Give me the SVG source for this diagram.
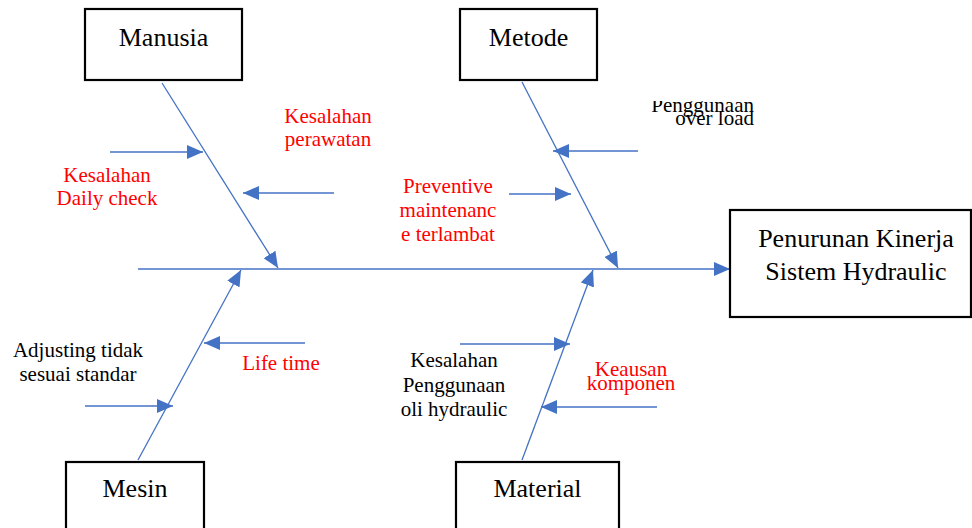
<svg xmlns="http://www.w3.org/2000/svg" width="972" height="528" viewBox="0 0 972 528">
<style>
  .box{fill:#fff;stroke:#000;stroke-width:2.2}
  .bone{stroke:#4472C4;stroke-width:1.3;fill:none;marker-end:url(#ah)}
  .t{font-family:"Liberation Serif","Times New Roman",serif;text-anchor:middle}
  .big{font-size:26px;fill:#000}
  .red{font-size:21px;fill:#FF0000}
  .blk{font-size:21px;fill:#000}
</style>
<defs>
  <marker id="ah" markerUnits="userSpaceOnUse" markerWidth="16" markerHeight="14" refX="16" refY="7" orient="auto">
    <path d="M0,0 L16,7 L0,14 Z" fill="#4472C4"/>
  </marker>
  <clipPath id="clipPO"><rect x="640" y="101" width="130" height="40"/></clipPath>
</defs>
<rect width="972" height="528" fill="#fff"/>

<g id="connectors">
  <line class="bone" x1="138" y1="269" x2="730" y2="269"/>
  <line class="bone" x1="162" y1="83" x2="278" y2="268"/>
  <line class="bone" x1="522" y1="82" x2="618" y2="268"/>
  <line class="bone" x1="138" y1="460" x2="241" y2="270"/>
  <line class="bone" x1="522" y1="460" x2="593" y2="270"/>
  <line class="bone" x1="110" y1="152" x2="203" y2="152"/>
  <line class="bone" x1="334" y1="193" x2="243" y2="193"/>
  <line class="bone" x1="638" y1="151" x2="553" y2="151"/>
  <line class="bone" x1="509" y1="194" x2="571" y2="194"/>
  <line class="bone" x1="305" y1="343" x2="204" y2="343"/>
  <line class="bone" x1="85" y1="406" x2="173" y2="406"/>
  <line class="bone" x1="460" y1="344" x2="570" y2="344"/>
  <line class="bone" x1="657" y1="407" x2="541" y2="407"/>
</g>

<g id="manusia">
  <rect class="box" x="85" y="9" width="157" height="71"/>
  <text class="t big" x="163.5" y="46">Manusia</text>
</g>
<g id="metode">
  <rect class="box" x="460" y="9" width="137" height="71"/>
  <text class="t big" x="528.5" y="46">Metode</text>
</g>
<g id="mesin">
  <rect class="box" x="66" y="462" width="138" height="80"/>
  <text class="t big" x="135" y="497">Mesin</text>
</g>
<g id="material">
  <rect class="box" x="456" y="462" width="163" height="80"/>
  <text class="t big" x="537.5" y="497">Material</text>
</g>
<g id="effect">
  <rect class="box" x="730" y="210" width="241" height="107"/>
  <text class="t big" x="856" y="247">Penurunan Kinerja</text>
  <text class="t big" x="856" y="280">Sistem Hydraulic</text>
</g>

<g id="kesalahan-perawatan">
  <text class="t red" x="328" y="123">Kesalahan</text>
  <text class="t red" x="328" y="146">perawatan</text>
</g>
<g id="kesalahan-daily-check">
  <text class="t red" x="107" y="182">Kesalahan</text>
  <text class="t red" x="107" y="205">Daily check</text>
</g>
<g id="preventive">
  <text class="t red" x="448" y="193">Preventive</text>
  <text class="t red" x="448" y="217">maintenanc</text>
  <text class="t red" x="448" y="241">e terlambat</text>
</g>
<g id="penggunaan-over-load" clip-path="url(#clipPO)">
  <text class="t blk" x="754" y="112" style="text-anchor:end">Penggunaan</text>
  <text class="t blk" x="754" y="125" style="text-anchor:end">over load</text>
</g>
<g id="adjusting">
  <text class="t blk" x="78" y="357">Adjusting tidak</text>
  <text class="t blk" x="78" y="381">sesuai standar</text>
</g>
<g id="life-time">
  <text class="t red" x="281" y="370">Life time</text>
</g>
<g id="kesalahan-oli">
  <text class="t blk" x="454" y="367">Kesalahan</text>
  <text class="t blk" x="454" y="392">Penggunaan</text>
  <text class="t blk" x="454" y="416">oli hydraulic</text>
</g>
<g id="keausan">
  <text class="t red" x="631" y="376">Keausan</text>
  <text class="t red" x="631" y="390">komponen</text>
</g>
</svg>
